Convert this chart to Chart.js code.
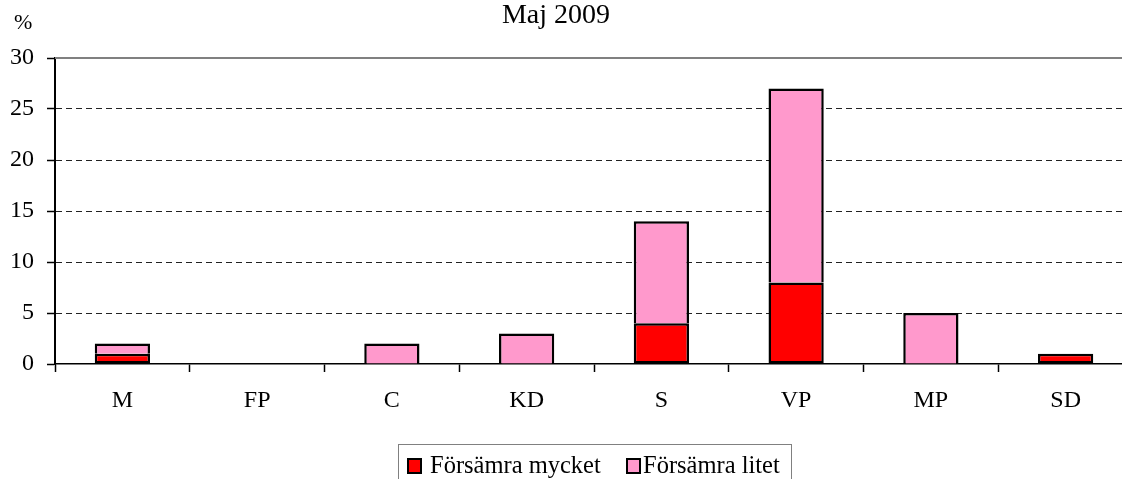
<!DOCTYPE html>
<html>
<head>
<meta charset="utf-8">
<script src="https://cdn.jsdelivr.net/npm/chart.js@4"></script>
<style>
html,body{margin:0;padding:0;background:#fff;overflow:hidden;width:1122px;height:479px;}
#wrap{position:relative;width:1122px;height:479px;overflow:hidden;background:#fff;}
canvas{position:absolute;left:0;top:0;}
.t{position:absolute;font-family:"Liberation Serif","Times New Roman",serif;color:#000;line-height:1;white-space:nowrap;}
#title{left:556px;top:-0.5px;font-size:28px;transform:translateX(-50%);}
#unit{left:14px;top:11px;font-size:22px;}
#legend{position:absolute;left:398px;top:444px;width:394px;height:60px;border:1px solid #808080;box-sizing:border-box;}
.sw{position:absolute;width:15px;height:16px;border:2px solid #000;box-sizing:border-box;}
.lt{font-size:24.5px;}
</style>
</head>
<body>
<div id="wrap">
<canvas id="c" width="1140" height="479" style="width:1140px;height:479px;"></canvas>
<div class="t" id="title">Maj 2009</div>
<div class="t" id="unit">%</div>
<div id="legend"></div>
<div class="sw" style="left:407px;top:458px;background:#FF0000;"></div>
<div class="t lt" style="left:430px;top:452.5px;">Försämra mycket</div>
<div class="sw" style="left:626px;top:458px;background:#FF99CC;"></div>
<div class="t lt" style="left:643px;top:452.5px;">Försämra litet</div>
</div>
<script>
const categories = ['M', 'FP', 'C', 'KD', 'S', 'VP', 'MP', 'SD'];
const forsamraMycket = [1, 0, 0, 0, 4, 8, 0, 1];
const forsamraLitet = [1, 0, 2, 3, 10, 19, 5, 0];
const seriesNames = ['Försämra mycket', 'Försämra litet'];
const yMin = 0, yMax = 30, yStep = 5;

const FONT = '"Liberation Serif", "Times New Roman", serif';

const topLine = {
  id: 'topLine',
  afterDraw(chart) {
    const {ctx, chartArea: a, scales: {y}} = chart;
    const py = y.getPixelForValue(y.max);
    ctx.save();
    ctx.strokeStyle = '#808080';
    ctx.lineWidth = 2;
    ctx.beginPath();
    ctx.moveTo(a.left, py);
    ctx.lineTo(a.right, py);
    ctx.stroke();
    ctx.restore();
  }
};

new Chart(document.getElementById('c'), {
  type: 'bar',
  data: {
    labels: categories,
    datasets: [
      {
        label: seriesNames[0],
        data: forsamraMycket,
        backgroundColor: '#FF0000',
        borderColor: '#000000',
        borderWidth: 2.5,
        borderSkipped: false,
        barPercentage: 0.41,
        categoryPercentage: 1
      },
      {
        label: seriesNames[1],
        data: forsamraLitet,
        backgroundColor: '#FF99CC',
        borderColor: '#000000',
        borderWidth: 2.5,
        borderSkipped: 'bottom',
        barPercentage: 0.41,
        categoryPercentage: 1
      }
    ]
  },
  options: {
    responsive: false,
    animation: false,
    devicePixelRatio: 1,
    layout: {padding: {left: 0, top: 58, right: 7, bottom: 0}},
    plugins: {
      legend: {display: false},
      title: {display: false},
      tooltip: {enabled: false}
    },
    scales: {
      x: {
        stacked: true,
        offset: true,
        grid: {
          offset: true,
          drawOnChartArea: false,
          drawTicks: true,
          tickLength: 8,
          tickColor: '#000',
          tickWidth: 1.5
        },
        border: {color: '#000', width: 1.5},
        ticks: {
          color: '#000',
          font: {family: FONT, size: 24},
          padding: 14,
          maxRotation: 0,
          autoSkip: false
        },
        afterFit: (a) => { a.height = 115; }
      },
      y: {
        stacked: true,
        min: yMin,
        max: yMax,
        ticks: {
          stepSize: yStep,
          color: '#000',
          font: {family: FONT, size: 24},
          padding: 13
        },
        grid: {
          color: (c) => (c.tick && (c.tick.value === yMin || c.tick.value === yMax)) ? 'rgba(0,0,0,0)' : '#222222',
          lineWidth: 1,
          drawTicks: true,
          tickLength: 8,
          tickColor: '#000',
          tickWidth: 1.5
        },
        border: {color: '#000', width: 2, dash: [6, 4]},
        afterFit: (a) => { a.width = 55; }
      }
    }
  },
  plugins: [topLine]
});
</script>
</body>
</html>
